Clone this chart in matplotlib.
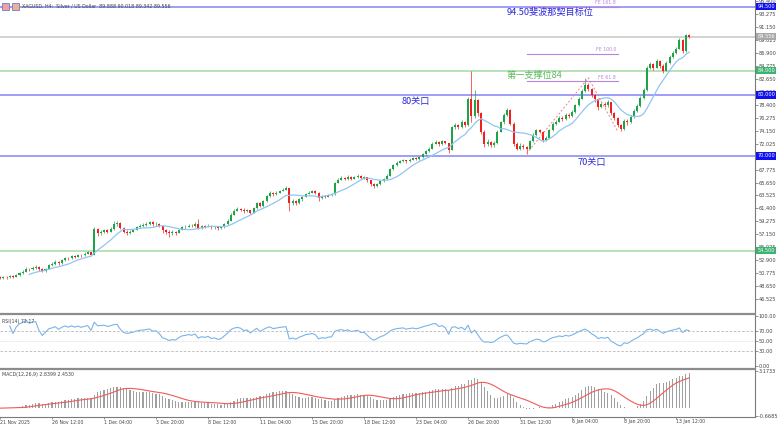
import numpy as np
import pandas as pd
import matplotlib
matplotlib.use('Agg')
import matplotlib.pyplot as plt
from matplotlib.lines import Line2D
from matplotlib.patches import Rectangle
from matplotlib.transforms import blended_transform_factory

W, H = 779, 426
CJK = ['Noto Sans CJK SC', 'DejaVu Sans']

# XAGUSD H4 bars (open = previous close)
first_open = 50.1
close = [
    50.0, 50.2, 50.1, 50.3, 50.2, 50.5, 50.8, 51.0, 51.5, 51.4,
    51.7, 51.8, 51.4, 51.1, 51.5, 52.1, 52.3, 52.6, 52.4, 52.9,
    53.3, 53.2, 53.6, 53.5, 53.8, 53.7, 54.0, 54.2, 53.8, 58.0,
    57.4, 57.5, 57.8, 57.6, 58.0, 58.8, 59.0, 58.2, 57.6, 57.4,
    57.6, 57.9, 58.3, 58.6, 58.7, 58.9, 59.1, 58.8, 58.9, 58.5,
    57.8, 57.6, 57.3, 57.5, 57.4, 57.9, 58.3, 58.4, 58.6, 58.5,
    58.8, 58.2, 58.5, 58.4, 58.6, 58.3, 58.4, 58.2, 58.3, 58.8,
    59.4, 60.4, 61.0, 61.3, 61.2, 60.9, 61.1, 60.7, 61.4, 62.3,
    61.8, 62.6, 63.4, 64.0, 63.7, 64.0, 64.3, 64.5, 64.7, 62.3,
    62.6, 62.3, 62.9, 63.3, 63.8, 64.0, 64.2, 64.0, 63.1, 63.4,
    63.3, 63.6, 63.7, 65.6, 66.1, 66.4, 66.2, 66.6, 66.3, 66.5,
    66.8, 66.4, 66.5, 66.0, 65.4, 65.0, 65.4, 65.9, 66.2, 66.8,
    67.8, 68.5, 68.9, 69.1, 69.3, 69.1, 69.4, 69.6, 69.5, 69.8,
    70.3, 70.8, 71.2, 72.0, 72.3, 71.9, 72.4, 72.1, 71.0, 74.7,
    75.1, 74.7, 75.6, 75.0, 79.3, 76.5, 79.2, 77.0, 74.0, 72.0,
    72.3, 71.8, 72.2, 74.0, 75.5, 76.8, 77.5, 75.3, 72.0, 71.2,
    71.7, 71.4, 71.2, 72.5, 73.4, 74.2, 74.0, 72.6, 73.0, 74.2,
    75.2, 75.6, 76.3, 76.0, 76.8, 76.5, 77.2, 78.3, 79.4, 80.6,
    81.7, 81.0, 80.0, 79.3, 78.0, 78.6, 78.3, 78.8, 77.0, 76.2,
    75.0, 74.5, 75.8, 75.5, 76.4, 77.4, 78.2, 79.5, 80.8, 84.4,
    85.0, 84.5, 85.6, 84.8, 84.0, 85.2, 86.2, 86.9, 87.6, 89.0,
    87.2, 89.9, 89.556,
]
high = [
    50.3, 50.4, 50.4, 50.5, 50.5, 50.7, 51.0, 51.3, 51.8, 51.7,
    52.0, 52.1, 51.9, 51.6, 51.7, 52.3, 52.6, 52.9, 52.8, 53.1,
    53.5, 53.5, 53.8, 53.8, 54.0, 54.0, 54.3, 54.4, 54.3, 58.3,
    58.2, 57.8, 58.1, 58.0, 58.3, 59.3, 59.4, 59.1, 58.3, 57.8,
    57.9, 58.1, 58.5, 58.8, 59.0, 59.2, 59.4, 59.3, 59.1, 59.0,
    58.6, 58.0, 57.8, 57.8, 57.7, 58.1, 58.5, 58.7, 58.9, 58.8,
    59.1, 59.7, 58.7, 58.7, 58.8, 58.7, 58.6, 58.6, 58.5, 59.0,
    59.6, 60.6, 61.3, 61.6, 61.5, 61.4, 61.3, 61.2, 61.6, 62.5,
    62.4, 62.8, 63.6, 64.2, 64.1, 64.3, 64.5, 64.8, 65.0, 64.8,
    62.9, 62.8, 63.1, 63.5, 64.0, 64.3, 64.4, 64.4, 64.1, 63.6,
    63.6, 63.8, 63.9, 65.8, 66.4, 66.7, 66.6, 66.9, 66.7, 66.8,
    67.0, 66.9, 66.7, 66.6, 66.1, 65.5, 65.6, 66.1, 66.4, 67.0,
    68.0, 68.7, 69.1, 69.3, 69.5, 69.4, 69.6, 69.8, 69.8, 70.0,
    70.5, 71.0, 71.4, 72.3, 72.6, 72.4, 72.6, 72.5, 72.2, 74.9,
    75.4, 75.3, 75.9, 75.8, 79.6, 84.0, 80.8, 79.4, 77.2, 74.3,
    72.8, 72.5, 72.5, 74.3, 75.8, 77.1, 77.9, 77.7, 75.5, 72.3,
    72.1, 71.9, 71.6, 72.7, 73.7, 74.5, 74.5, 74.1, 73.3, 74.4,
    75.5, 75.9, 76.6, 76.6, 77.1, 77.0, 77.5, 78.6, 79.7, 80.9,
    82.8, 82.0, 81.2, 80.2, 79.5, 78.9, 78.9, 79.1, 78.9, 77.2,
    76.4, 75.3, 76.0, 76.1, 76.7, 77.7, 78.5, 79.8, 81.1, 84.7,
    85.4, 85.3, 85.9, 85.8, 85.0, 85.5, 86.5, 87.2, 87.9, 89.3,
    89.1, 90.0, 90.018,
]
low = [
    49.8, 49.9, 49.9, 50.0, 50.0, 50.1, 50.4, 50.7, 50.9, 51.2,
    51.3, 51.5, 51.1, 50.9, 51.0, 51.4, 52.0, 52.2, 52.1, 52.3,
    52.8, 53.0, 53.1, 53.3, 53.4, 53.5, 53.6, 53.9, 53.6, 53.7,
    56.9, 57.1, 57.3, 57.4, 57.5, 57.9, 58.6, 58.0, 57.3, 57.1,
    57.2, 57.5, 57.8, 58.2, 58.4, 58.6, 58.7, 58.6, 58.6, 58.3,
    57.4, 57.2, 56.8, 57.0, 57.1, 57.3, 57.8, 58.1, 58.3, 58.3,
    58.4, 58.0, 58.0, 58.2, 58.3, 58.1, 58.1, 57.9, 58.0, 58.2,
    58.7, 59.3, 60.3, 60.9, 61.0, 60.7, 60.8, 60.5, 60.6, 61.3,
    61.6, 61.7, 62.5, 63.3, 63.5, 63.6, 63.9, 64.2, 64.4, 60.9,
    62.0, 61.9, 62.1, 62.7, 63.2, 63.7, 63.9, 63.8, 62.6, 63.0,
    63.1, 63.2, 63.4, 63.6, 65.5, 66.0, 66.0, 66.1, 66.1, 66.2,
    66.4, 66.2, 66.2, 65.8, 65.1, 64.7, 64.9, 65.3, 65.8, 66.1,
    66.7, 67.7, 68.4, 68.8, 69.0, 68.9, 69.0, 69.3, 69.3, 69.4,
    69.7, 70.2, 70.7, 71.1, 71.9, 71.6, 71.8, 71.9, 70.5, 70.9,
    74.5, 74.5, 74.6, 74.7, 74.9, 75.6, 76.3, 76.6, 73.6, 71.4,
    71.6, 71.4, 71.5, 72.0, 73.9, 75.3, 76.6, 75.0, 71.7, 70.9,
    71.0, 71.1, 70.4, 71.1, 72.3, 73.3, 73.7, 72.3, 72.4, 72.9,
    74.1, 75.0, 75.5, 75.7, 75.9, 76.2, 76.4, 77.1, 78.2, 79.3,
    80.5, 80.7, 79.7, 78.9, 77.6, 77.8, 78.0, 78.1, 76.7, 75.9,
    74.7, 74.1, 74.3, 75.1, 75.4, 76.3, 77.2, 78.1, 79.4, 80.7,
    84.2, 84.1, 84.4, 84.5, 83.6, 83.9, 85.1, 86.0, 86.7, 87.5,
    86.9, 87.1, 89.342,
]

date_labels = ['21 Nov 2025', '26 Nov 12:00', '1 Dec 04:00', '3 Dec 20:00',
               '8 Dec 12:00', '11 Dec 04:00', '15 Dec 20:00', '18 Dec 12:00',
               '23 Dec 04:00', '26 Dec 20:00', '31 Dec 12:00', '6 Jan 04:00',
               '8 Jan 20:00', '13 Jan 12:00']
bars_per_label = 16

# horizontal levels drawn on the chart
level_prices = [94.5, 84.0, 80.0, 70.0, 54.5]
level_kinds = ['blue', 'green', 'blue', 'blue', 'green']

# fibonacci expansion (A, B, C swing points) and its levels
fe_idx = [162, 181, 190]
fe_price = [70.4, 82.8, 74.1]
fe_levels = [94.5, 86.75, 82.25]
fe_names = ['FE 161.8', 'FE 100.0', 'FE 61.8']

header = 'XAGUSD, H4:  Silver / US Dollar  89.888 90.018 89.342 89.556'
rsi_label = 'RSI(14) 72.17'
macd_label = 'MACD(12,26,9) 2.8399 2.4530'

n = len(close)
idx = np.arange(n)
opens = np.array([first_open] + close[:-1])
closes = np.array(close)
s = pd.Series(closes)

ma = s.rolling(10).mean()
delta = s.diff()
gain = delta.clip(lower=0).ewm(alpha=1 / 14, min_periods=3).mean()
loss = (-delta.clip(upper=0)).ewm(alpha=1 / 14, min_periods=3).mean()
rsi = 100 - 100 / (1 + gain / loss)
ema12 = s.ewm(span=12, adjust=False).mean()
ema26 = s.ewm(span=26, adjust=False).mean()
macd = ema12 - ema26
signal = macd.rolling(9, min_periods=1).mean()

BLUE_LINE = '#8484f7'
GREEN_LINE = '#a3dba3'
BULL = '#1fa348'
BEAR = '#f51e1e'
FE_COL = '#b983e0'
SMALL = 3.6

fig = plt.figure(figsize=(W / 100, H / 100), dpi=100)
fig.patch.set_facecolor('white')


def fy(px):
    return 1 - px / H


def fx(px):
    return px / W


ax = fig.add_axes([0, fy(313), fx(755), 313 / H])
ax_rsi = fig.add_axes([0, fy(368), fx(755), 53 / H], sharex=ax)
ax_macd = fig.add_axes([0, fy(417), fx(755), 47 / H], sharex=ax)

px_per_bar = 3.26
x0 = -2.2
ax.set_xlim((0 - x0) / px_per_bar, (755 - x0) / px_per_bar)
ax.set_ylim(44.26, 95.57)
ax_rsi.set_ylim(-4, 102)
ax_macd.set_ylim(-0.753, 3.259)

for a in (ax, ax_rsi, ax_macd):
    for side in ('top', 'left', 'bottom'):
        a.spines[side].set_visible(False)
    a.spines['right'].set_color('#7a7a7a')
    a.spines['right'].set_linewidth(0.8)
    a.yaxis.tick_right()
    a.tick_params(axis='y', labelsize=SMALL, colors='#666666', length=2,
                  width=0.5, pad=0.8, labelcolor='#444444')
    a.tick_params(axis='x', bottom=False, labelbottom=False)

# horizontal levels
for p, kind in zip(level_prices, level_kinds):
    ax.axhline(p, color=BLUE_LINE if kind == 'blue' else GREEN_LINE, lw=1.1, zorder=1)
ax.axhline(closes[-1], color='#c8c8c8', lw=1.1, zorder=1)

# candles
bull = closes >= opens
lo_body = np.minimum(opens, closes)
body_h = np.maximum(np.abs(closes - opens), 0.08)
cols = np.where(bull, BULL, BEAR)
ax.vlines(idx, low, high, colors=cols, lw=0.7, alpha=0.7, zorder=2)
ax.bar(idx, body_h, bottom=lo_body, width=0.62, color=cols, lw=0, zorder=3)

ax.plot(idx, ma, color='#92c5f2', lw=0.9, zorder=4)

# fibonacci expansion
ax.plot(fe_idx, fe_price, color='#f08080', lw=0.7, ls=(0, (2, 2)), zorder=4)
for lv, name in zip(fe_levels, fe_names):
    ax.plot([fe_idx[0], fe_idx[2]], [lv, lv], color=FE_COL, lw=0.8, zorder=4)
    ax.text(fe_idx[2] - 0.5, lv + 0.25, name, color=FE_COL, fontsize=3.3,
            ha='right', va='bottom', zorder=5)

# price axis ticks (the one hidden under the 70.000 box is left out)
price_ticks = [t for t in np.arange(46.525, 95.5, 2.125) if abs(t - 69.9) > 0.01]
ax.set_yticks(price_ticks)
ax.set_yticklabels(['%.3f' % t for t in price_ticks])

# boxes on the price axis
tr = blended_transform_factory(ax.transAxes, ax.transData)
box_fc = {'blue': '#1010f0', 'green': '#3cb371'}
for p, kind in zip(level_prices, level_kinds):
    ax.text(1.003, p, '%.3f' % p, transform=tr, fontsize=SMALL, color='white',
            ha='left', va='center', clip_on=False, zorder=10,
            bbox=dict(boxstyle='square,pad=0.25', fc=box_fc[kind], ec='none'))
ax.text(1.003, closes[-1], '%.3f' % closes[-1], transform=tr, fontsize=SMALL,
        color='white', ha='left', va='center', clip_on=False, zorder=10,
        bbox=dict(boxstyle='square,pad=0.25', fc='#a8a8a8', ec='none'))

# chart notes
fig.text(fx(507), fy(12.5), '94.50斐波那契目标位', family=CJK, fontsize=6.6,
         color='#2b2bd6', ha='left', va='center')
fig.text(fx(507), fy(75.5), '第一支撑位84', family=CJK, fontsize=6.6,
         color='#5cb85c', ha='left', va='center')
fig.text(fx(402), fy(101.5), '80关口', family=CJK, fontsize=6.6,
         color='#2b2bd6', ha='left', va='center')
fig.text(fx(578), fy(162.5), '70关口', family=CJK, fontsize=6.6,
         color='#2b2bd6', ha='left', va='center')

# header
fig.patches.append(Rectangle((fx(2), fy(10)), fx(7), 7 / H, transform=fig.transFigure,
                             fc='#f4a0a0', ec='#6a7fd0', lw=0.6))
fig.patches.append(Rectangle((fx(12), fy(10)), fx(7), 7 / H, transform=fig.transFigure,
                             fc='#f0b090', ec='#6a7fd0', lw=0.6))
fig.text(fx(22), fy(6), header, fontsize=3.4, color='#444444', ha='left', va='center')

# RSI panel
ax_rsi.plot(idx, rsi, color='#78b4ec', lw=0.8)
for lv in (70, 30):
    ax_rsi.axhline(lv, color='#b8b8b8', lw=0.6, ls=(0, (3, 2)))
ax_rsi.axhline(50, color='#c8c8c8', lw=0.5, ls=(0, (1, 1.5)))
ax_rsi.set_yticks([100, 70, 50, 30, 0])
ax_rsi.set_yticklabels(['100.00', '70.00', '50.00', '30.00', '0.00'])
ax_rsi.text(0.002, 0.93, rsi_label, transform=ax_rsi.transAxes, fontsize=3.4,
            color='#444444', ha='left', va='top')

# MACD panel
ax_macd.bar(idx, macd, width=0.35, color='#a0a0a0', lw=0)
ax_macd.plot(idx, signal, color='#f05a5a', lw=0.8)
ax_macd.set_yticks([3.1733, -0.6685])
ax_macd.set_yticklabels(['3.1733', '-0.6685'])
ax_macd.text(0.002, 0.95, macd_label, transform=ax_macd.transAxes, fontsize=3.4,
             color='#444444', ha='left', va='top')
ax_macd.spines['bottom'].set_visible(True)
ax_macd.spines['bottom'].set_color('#7a7a7a')
ax_macd.spines['bottom'].set_linewidth(0.8)
ax_macd.set_xticks(np.arange(len(date_labels)) * bars_per_label)
ax_macd.tick_params(axis='x', bottom=True, labelbottom=True, length=1.5, width=0.5,
                    colors='#666666', labelsize=3.3, pad=0.3)
ax_macd.set_xticklabels(date_labels)
for t in ax_macd.get_xticklabels():
    t.set_ha('left')
    t.set_color('#444444')

# panel separators
for y in (314, 369):
    fig.add_artist(Line2D([0, fx(755)], [fy(y), fy(y)], color='#8c8c8c', lw=1.6))

fig.savefig('out.png', dpi=100)
